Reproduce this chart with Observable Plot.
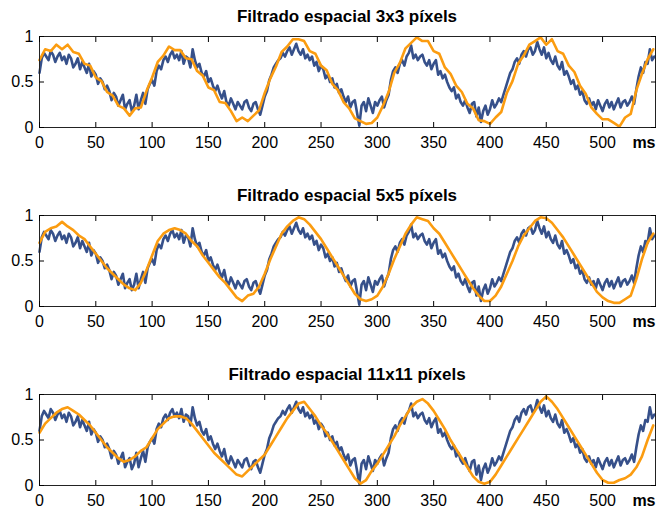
<!DOCTYPE html>
<html><head><meta charset="utf-8">
<script src="https://cdn.jsdelivr.net/npm/d3@7"></script>
<script src="https://cdn.jsdelivr.net/npm/@observablehq/plot@0.6"></script>
<style>
body{margin:0;background:#fff;font-family:"Liberation Sans",Arial,sans-serif;overflow:hidden;}
.title{width:657px;height:34px;line-height:34px;font-weight:bold;font-size:17px;text-align:center;padding-left:39px;padding-right:2px;box-sizing:border-box;color:#000;}
svg{display:block;}
</style></head><body><div id="root"></div>
<script>
const titles = ["Filtrado espacial 3x3 píxels", "Filtrado espacial 5x5 píxels", "Filtrado espacial 11x11 píxels"];
const xLabel = "ms";
const xTicks = [0, 50, 100, 150, 200, 250, 300, 350, 400, 450, 500];
const yTicks = [0, 0.5, 1];
const xDomain = [0, 547];

// raw (blue) signal, one sample every 2 ms
const blueStep = 2;
const blueValues = [
0.60,0.76,0.82,0.78,0.74,0.84,0.80,0.72,0.78,0.82,
0.74,0.78,0.70,0.80,0.76,0.66,0.70,0.76,0.64,0.72,
0.66,0.60,0.70,0.56,0.62,0.58,0.48,0.54,0.50,0.42,
0.46,0.40,0.30,0.38,0.34,0.24,0.30,0.36,0.20,0.26,
0.30,0.18,0.24,0.36,0.20,0.30,0.38,0.26,0.42,0.48,
0.52,0.46,0.62,0.68,0.64,0.74,0.78,0.72,0.80,0.84,
0.76,0.80,0.74,0.84,0.70,0.78,0.76,0.66,0.86,0.74,
0.66,0.70,0.60,0.56,0.62,0.50,0.54,0.46,0.40,0.46,
0.38,0.32,0.40,0.28,0.24,0.32,0.26,0.20,0.28,0.24,
0.20,0.28,0.30,0.22,0.18,0.26,0.28,0.20,0.14,0.24,
0.34,0.40,0.52,0.58,0.66,0.70,0.74,0.76,0.82,0.78,
0.84,0.88,0.80,0.86,0.92,0.84,0.80,0.86,0.76,0.80,
0.74,0.78,0.68,0.72,0.62,0.68,0.64,0.54,0.58,0.50,
0.54,0.44,0.48,0.38,0.42,0.34,0.28,0.34,0.22,0.28,
0.30,0.16,0.02,0.24,0.28,0.18,0.32,0.24,0.16,0.28,
0.24,0.30,0.34,0.22,0.30,0.36,0.52,0.62,0.66,0.60,
0.70,0.74,0.68,0.78,0.82,0.90,0.76,0.80,0.74,0.78,
0.80,0.72,0.68,0.74,0.64,0.70,0.74,0.58,0.62,0.54,
0.58,0.50,0.44,0.40,0.44,0.32,0.36,0.28,0.24,0.30,
0.22,0.16,0.26,0.28,0.12,0.22,0.06,0.18,0.24,0.14,
0.20,0.30,0.22,0.26,0.32,0.28,0.36,0.44,0.52,0.60,
0.64,0.72,0.76,0.70,0.80,0.84,0.78,0.86,0.88,0.80,
0.84,0.94,0.86,0.80,0.88,0.76,0.82,0.74,0.70,0.78,
0.68,0.64,0.72,0.58,0.62,0.56,0.48,0.52,0.42,0.46,
0.36,0.40,0.30,0.26,0.32,0.24,0.28,0.20,0.30,0.24,
0.18,0.26,0.30,0.22,0.28,0.20,0.26,0.32,0.22,0.28,
0.30,0.24,0.28,0.34,0.26,0.42,0.56,0.66,0.60,0.72,
0.70,0.86,0.74,0.78
];

// filtered (orange) signals, one sample every 5 ms
const orangeStep = 5;
const orange3x3 = [
0.74,0.86,0.84,0.91,0.86,0.91,0.83,0.81,0.70,0.68,0.55,0.51,0.39,0.35,0.24,0.21,0.13,0.21,0.22,0.40,
0.55,0.72,0.79,0.89,0.85,0.85,0.76,0.75,0.62,0.57,0.44,0.41,0.28,0.27,0.18,0.07,0.11,0.07,0.13,0.19,
0.38,0.54,0.67,0.83,0.89,0.97,0.97,0.95,0.84,0.81,0.68,0.63,0.48,0.41,0.28,0.21,0.10,0.07,0.04,0.05,
0.11,0.24,0.39,0.60,0.71,0.87,0.93,0.99,0.95,0.95,0.84,0.81,0.66,0.59,0.46,0.39,0.26,0.21,0.08,0.07,
0.04,0.11,0.17,0.38,0.51,0.70,0.79,0.91,0.95,0.99,0.91,0.97,0.84,0.81,0.68,0.61,0.46,0.37,0.22,0.15,
0.09,0.09,0.05,0.01,0.11,0.15,0.41,0.59,0.75,0.86
];
const orange5x5 = [
0.70,0.82,0.86,0.88,0.93,0.88,0.84,0.78,0.74,0.66,0.58,0.50,0.42,0.36,0.30,0.24,0.20,0.18,0.26,0.40,
0.56,0.72,0.80,0.84,0.86,0.84,0.80,0.72,0.66,0.56,0.48,0.40,0.32,0.26,0.18,0.10,0.06,0.12,0.14,0.22,
0.36,0.52,0.66,0.80,0.88,0.94,0.98,0.96,0.90,0.82,0.74,0.64,0.54,0.44,0.34,0.24,0.14,0.08,0.06,0.08,
0.12,0.22,0.36,0.52,0.66,0.80,0.90,0.98,0.96,0.94,0.86,0.80,0.70,0.60,0.50,0.40,0.30,0.20,0.12,0.06,
0.06,0.12,0.22,0.36,0.50,0.66,0.78,0.86,0.94,0.98,0.97,0.92,0.84,0.76,0.66,0.56,0.46,0.36,0.26,0.16,
0.10,0.06,0.04,0.04,0.08,0.12,0.30,0.52,0.70,0.80
];
const orange11x11 = [
0.58,0.68,0.74,0.80,0.84,0.86,0.82,0.78,0.72,0.66,0.58,0.50,0.42,0.36,0.30,0.26,0.28,0.32,0.38,0.42,
0.52,0.62,0.68,0.74,0.76,0.76,0.74,0.68,0.60,0.52,0.44,0.36,0.30,0.24,0.18,0.12,0.10,0.16,0.22,0.28,
0.34,0.44,0.54,0.64,0.74,0.82,0.90,0.92,0.84,0.76,0.66,0.58,0.48,0.38,0.28,0.18,0.08,0.02,0.06,0.16,
0.24,0.34,0.44,0.54,0.66,0.76,0.86,0.92,0.95,0.90,0.82,0.72,0.62,0.50,0.40,0.30,0.20,0.10,0.04,0.02,
0.04,0.12,0.22,0.32,0.42,0.52,0.62,0.72,0.82,0.92,0.98,0.92,0.84,0.74,0.64,0.54,0.44,0.34,0.24,0.14,
0.06,0.03,0.03,0.06,0.08,0.12,0.20,0.32,0.50,0.66
];
const orangeSeries = [orange3x3, orange5x5, orange11x11];

const blueColor = "#36508a";
const orangeColor = "#fb9c10";

const blueData = blueValues.map((v, i) => ({t: i * blueStep, v}));

function panel(orange, svgHeight, marginBottom) {
  const orangeData = orange.map((v, i) => ({t: i * orangeStep, v}));
  const fmt = d => String(d);
  const none = () => "";
  return Plot.plot({
    width: 657, height: svgHeight,
    marginLeft: 39, marginRight: 2, marginTop: 2, marginBottom,
    style: {fontSize: "16px", fontFamily: "'Liberation Sans', Arial, sans-serif", color: "#000", background: "#fff", overflow: "visible"},
    x: {domain: xDomain},
    y: {domain: [0, 1]},
    marks: [
      Plot.line(blueData, {x: "t", y: "v", stroke: blueColor, strokeWidth: 2.6}),
      Plot.line(orangeData, {x: "t", y: "v", stroke: orangeColor, strokeWidth: 2.6}),
      Plot.frame({stroke: "#222", strokeWidth: 1}),
      Plot.axisX(xTicks, {anchor: "bottom", tickSize: 0, tickPadding: 9, label: null, tickFormat: fmt}),
      Plot.axisX(xTicks, {anchor: "bottom", tickSize: -5, tickFormat: none, label: null}),
      Plot.axisX(xTicks, {anchor: "top", tickSize: -5, tickFormat: none, label: null}),
      Plot.axisY(yTicks, {anchor: "left", tickSize: 0, tickPadding: 6, label: null, tickFormat: fmt}),
      Plot.axisY(yTicks, {anchor: "left", tickSize: -5, tickFormat: none, label: null}),
      Plot.axisY(yTicks, {anchor: "right", tickSize: -5, tickFormat: none, label: null}),
      Plot.text([xLabel], {frameAnchor: "bottom-right", text: d => d, dy: 9, fontWeight: "bold", fontSize: 16, textAnchor: "end", lineAnchor: "top"})
    ]
  });
}

const root = document.getElementById("root");
const heights = [145, 145, 121];
const bottoms = [52, 52, 28];
titles.forEach((t, k) => {
  const d = document.createElement("div");
  d.className = "title";
  d.textContent = t;
  root.appendChild(d);
  root.appendChild(panel(orangeSeries[k], heights[k], bottoms[k]));
});
</script>
</body></html>
